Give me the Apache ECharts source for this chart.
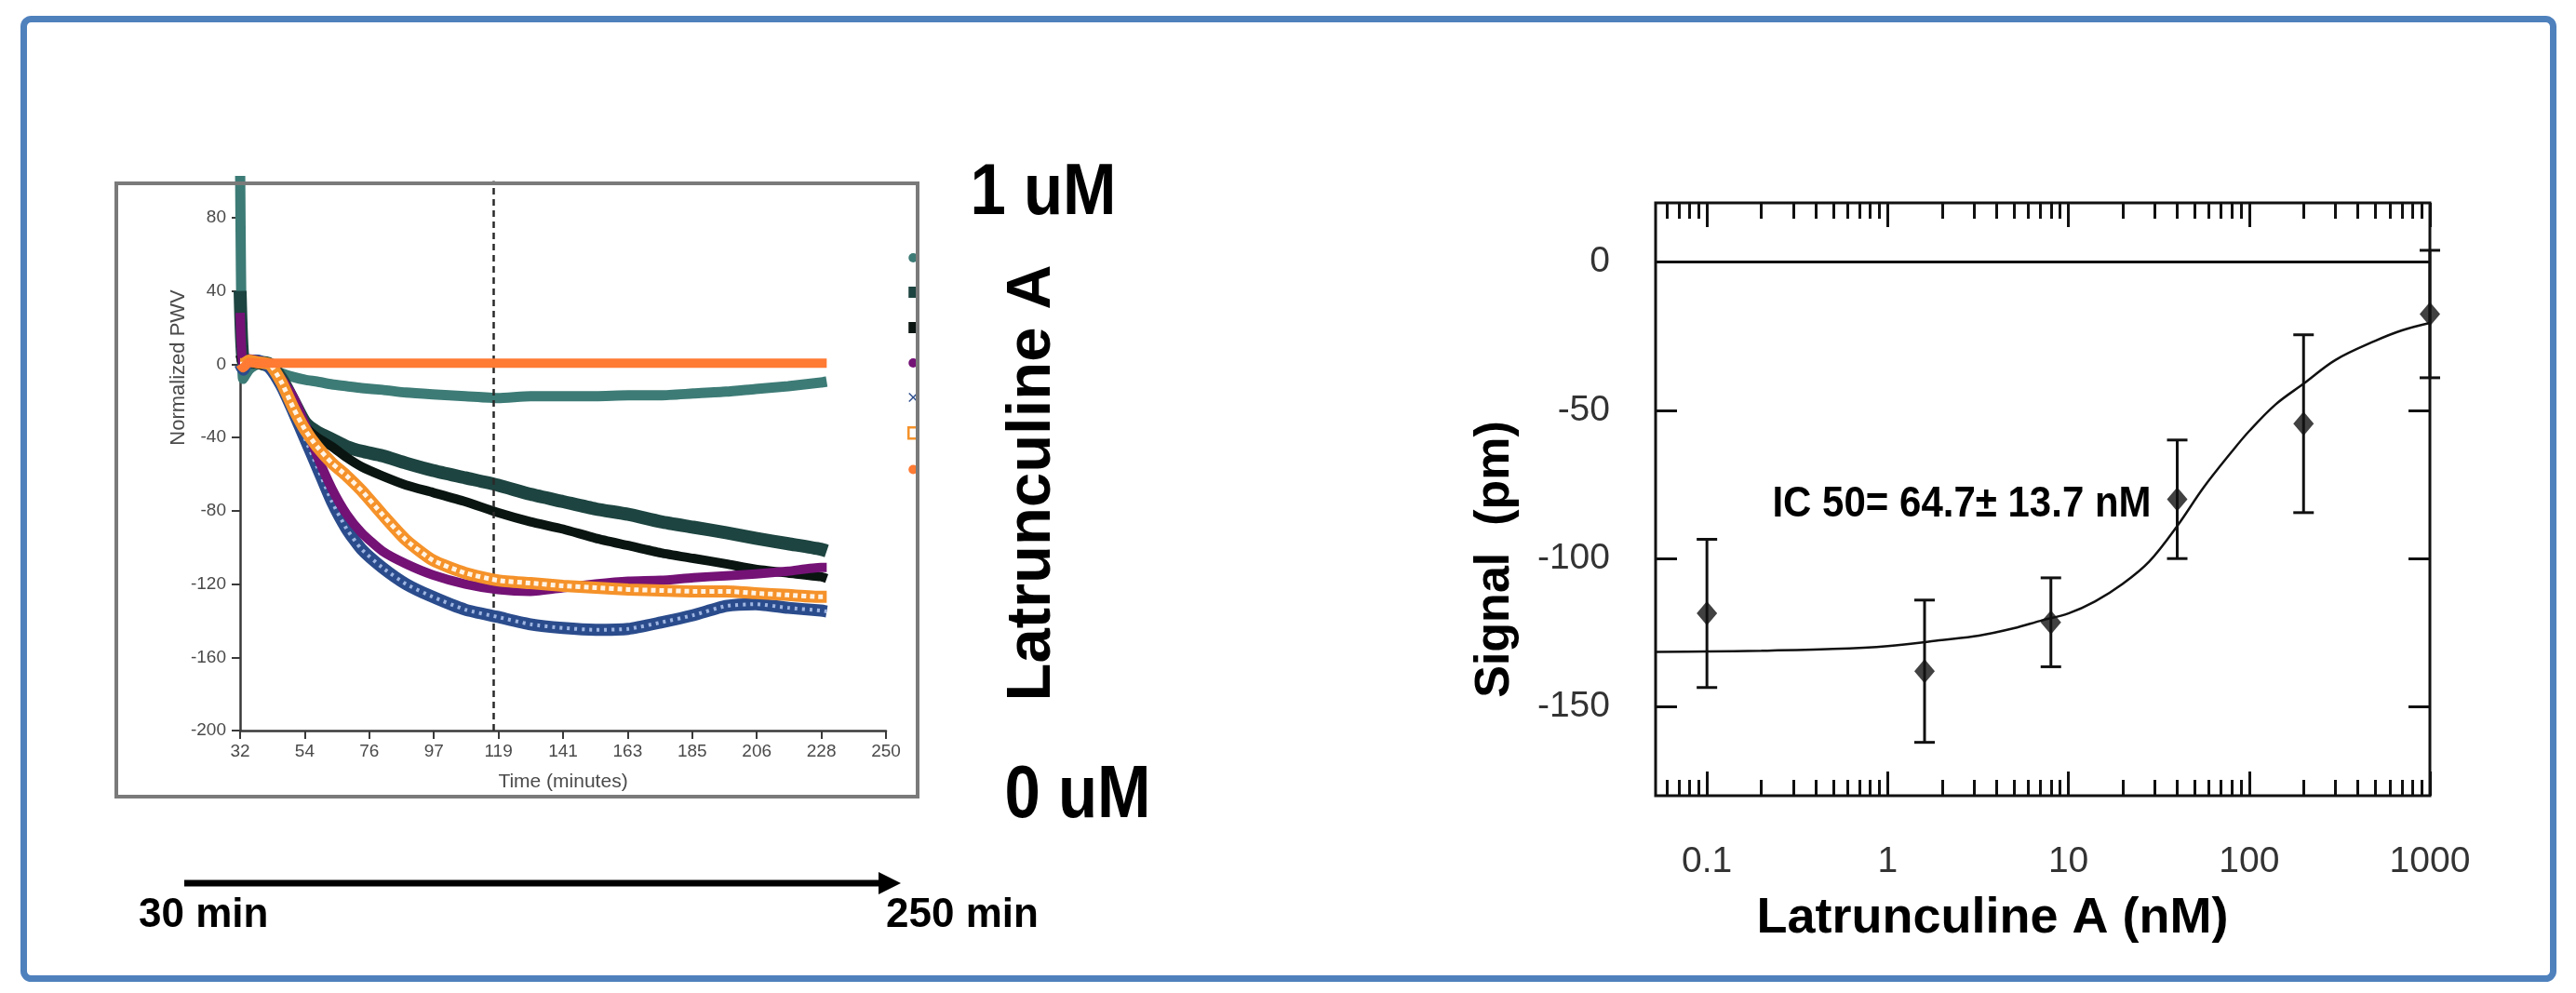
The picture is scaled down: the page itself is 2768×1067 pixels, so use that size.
<!DOCTYPE html>
<html>
<head>
<meta charset="utf-8">
<script src="https://cdn.jsdelivr.net/npm/echarts@6/dist/echarts.min.js"></script>
<style>
html,body{margin:0;padding:0;background:#ffffff;}
#chart{width:2768px;height:1067px;}
</style>
</head>
<body>
<div id="chart"></div>
<script>
// ---------- Left panel: kinetic traces (Time, minutes vs Normalized PWV) ----------
const timeMin = [32, 33, 35, 38, 42, 46, 50, 54, 58, 63, 68, 73, 80, 88, 97, 108, 119, 130, 141, 152, 163, 174, 185, 196, 206, 217, 228, 230];
const traceTeal = [110, -8, -3, 0, -2, -5, -7, -8.5, -9.5, -11, -12, -13, -14, -15.5, -16.5, -17.5, -18.5, -17.5, -17.5, -17.5, -17, -17, -16, -15, -13.5, -12, -10, -9.5];
const traceDarkGreen = [40, 2, 1, 1, 0, -8, -20, -32, -37, -41, -45, -47.5, -50, -54, -58, -62, -66, -71, -75, -79, -82, -86, -89, -92, -95, -98, -101, -102];
const traceBlack = [5, 0, 1, 0, -2, -10, -22, -34, -40, -45, -51, -56, -61, -66, -70, -75, -81, -86, -90, -95, -99, -103, -106, -109, -112, -114, -116, -117];
const tracePurple = [28, 0, 3, 2, 0, -8, -18, -33, -50, -68, -82, -92, -102, -109, -115, -120, -123, -124, -122, -120, -118.5, -118, -116.5, -115.5, -114.5, -113, -111, -111];
const traceBlue = [0, -3, 2, 2, -2, -12, -26, -41, -56, -75, -90, -101, -111, -120, -127, -134, -138, -142, -144, -145, -144.5, -141, -137, -132, -131, -133, -134.5, -135];
const traceOrangeSq = [0, 0, 2, 1, 0, -10, -24, -36, -45, -54, -61, -69, -82, -96, -107, -114, -118, -119.5, -121, -122, -123, -123.5, -124, -124, -125, -126, -127, -127];
const traceOrangeDot = [0, -2, 1, 0.5, 0.5, 0.5, 0.5, 0.5, 0.5, 0.5, 0.5, 0.5, 0.5, 0.5, 0.5, 0.5, 0.5, 0.5, 0.5, 0.5, 0.5, 0.5, 0.5, 0.5, 0.5, 0.5, 0.5, 0.5];
const timeTickVals = [32, 53.8, 75.6, 97.4, 119.2, 141, 162.8, 184.6, 206.4, 228.2, 250];
const timeTickLabels = ['32', '54', '76', '97', '119', '141', '163', '185', '206', '228', '250'];
const pwvTickVals = [-200, -160, -120, -80, -40, 0, 40, 80];
const markerTime = 117.6;

// ---------- Right panel: dose response ----------
const doseNM = [0.1, 1.6, 8, 40, 200, 1000];
const signalMean = [-118.5, -138, -121.5, -80, -54.5, -17.5];
const signalErr = [25, 24, 15, 20, 30, 21.5];
const fitDose = [0.052, 0.1, 0.2, 0.5, 1, 2, 3.2, 5, 7, 10, 14, 20, 28, 40, 56, 80, 100, 140, 200, 300, 500, 700, 1000];
const fitSignal = [-131.5, -131.3, -131.1, -130.5, -129.5, -127.5, -126, -123.5, -121, -118.5, -114.5, -108.5, -101, -89, -76, -64, -57, -48, -41, -33, -26.5, -23, -20.5];
const doseMajorTicks = [0.1, 1, 10, 100, 1000];
const doseTickLabels = ['0.1', '1', '10', '100', '1000'];
const signalTicks = [-150, -100, -50, 0];

// minor log ticks (2..9 of each decade) inside the axis range
const doseMinorTicks = [];
[0.01, 0.1, 1, 10, 100].forEach(function (d) {
  for (let k = 2; k <= 9; k++) {
    const v = +(d * k).toPrecision(3);
    if (v > 0.052 && v < 1000) doseMinorTicks.push(v);
  }
});

const FONT = "'Liberation Sans', Arial, Helvetica, sans-serif";

function nearestLabel(vals, labels, v) {
  let best = 0;
  for (let i = 1; i < vals.length; i++) {
    if (Math.abs(vals[i] - v) < Math.abs(vals[best] - v)) best = i;
  }
  return labels[best];
}
function pairs(xs, ys) { return xs.map(function (x, i) { return [x, ys[i]]; }); }

function traceSeries(name, ys, color, width, z, extra) {
  const s = {
    name: name, type: 'line', xAxisIndex: 0, yAxisIndex: 0,
    data: pairs(timeMin, ys), showSymbol: false, smooth: 0.2,
    lineStyle: { color: color, width: width, cap: 'butt', join: 'round' },
    itemStyle: { color: color }, z: z, silent: true
  };
  return Object.assign(s, extra || {});
}

const chart = echarts.init(document.getElementById('chart'), null, { renderer: 'canvas', width: 2768, height: 1067 });

const logAxisBase = {
  gridIndex: 1, type: 'log', logBase: 10, min: 0.052, max: 1000,
  axisLine: { show: false, onZero: false }, splitLine: { show: false }, minorTick: { show: false }
};
function logAxis(pos, ticks, len, withLabels) {
  return Object.assign({}, logAxisBase, {
    position: pos,
    axisTick: { show: true, inside: true, length: len, customValues: ticks, lineStyle: { color: '#111', width: 3 } },
    axisLabel: withLabels ? {
      show: true, customValues: doseMajorTicks, margin: 52, fontSize: 39, color: '#333', fontFamily: FONT,
      formatter: function (v) { return nearestLabel(doseMajorTicks, doseTickLabels, v); }
    } : { show: false }
  });
}
function signalAxis(pos, withLabels) {
  return {
    gridIndex: 1, type: 'value', min: -180, max: 20, position: pos,
    axisLine: { show: false, onZero: false }, splitLine: { show: false },
    axisTick: { show: true, inside: true, length: 23, customValues: signalTicks, lineStyle: { color: '#111', width: 3 } },
    axisLabel: withLabels ? { show: true, customValues: signalTicks, margin: 49, fontSize: 39, color: '#333', fontFamily: FONT } : { show: false }
  };
}

const option = {
  animation: false,
  backgroundColor: '#ffffff',
  grid: [
    { left: 258, top: 194.5, width: 694, height: 590.5, containLabel: false },
    { left: 1779, top: 218, width: 832, height: 637, show: true, borderColor: '#111', borderWidth: 3, backgroundColor: 'transparent', containLabel: false }
  ],
  legend: {
    orient: 'vertical', left: 975, top: 271, padding: 0, itemWidth: 10, itemHeight: 12, itemGap: 26,
    selectedMode: false, formatter: function () { return ''; }, textStyle: { fontSize: 1 },
    data: [
      { name: 'Trace 1', icon: 'circle', itemStyle: { color: '#3d7b76' } },
      { name: 'Trace 2', icon: 'rect', itemStyle: { color: '#1d4440' } },
      { name: 'Trace 3', icon: 'rect', itemStyle: { color: '#0a1512' } },
      { name: 'Trace 4', icon: 'circle', itemStyle: { color: '#741276' } },
      { name: 'Trace 5', icon: 'path://M0,1L1,0L5,4L9,0L10,1L6,5L10,9L9,10L5,6L1,10L0,9L4,5Z', itemStyle: { color: '#2b4c8c' } },
      { name: 'Trace 6', icon: 'rect', itemStyle: { color: '#ffffff', borderColor: '#f5922a', borderWidth: 2.5 } },
      { name: 'Trace 7', icon: 'circle', itemStyle: { color: '#ff7a33' } }
    ]
  },
  xAxis: [
    {
      gridIndex: 0, type: 'value', min: 32, max: 250, position: 'bottom',
      axisLine: { show: true, onZero: false, lineStyle: { color: '#3a3a3a', width: 2.5 } },
      axisTick: { show: true, customValues: timeTickVals, length: 9, lineStyle: { color: '#3a3a3a', width: 2 } },
      axisLabel: {
        show: true, customValues: timeTickVals, margin: 13, fontSize: 19, color: '#4a4a4a', fontFamily: FONT,
        formatter: function (v) { return nearestLabel(timeTickVals, timeTickLabels, v); }
      },
      splitLine: { show: false },
      name: 'Time (minutes)', nameLocation: 'middle', nameGap: 45,
      nameTextStyle: { fontSize: 21, color: '#4a4a4a', fontFamily: FONT }
    },
    logAxis('bottom', doseMajorTicks, 26, true),
    logAxis('bottom', doseMinorTicks, 17, false),
    logAxis('top', doseMajorTicks, 26, false),
    logAxis('top', doseMinorTicks, 17, false)
  ],
  yAxis: [
    {
      gridIndex: 0, type: 'value', min: -200, max: 100, position: 'left',
      axisLine: { show: true, onZero: false, lineStyle: { color: '#3a3a3a', width: 2.5 } },
      axisTick: { show: true, customValues: pwvTickVals, length: 9, lineStyle: { color: '#3a3a3a', width: 2 } },
      axisLabel: { show: true, customValues: pwvTickVals, margin: 15, fontSize: 19, color: '#4a4a4a', fontFamily: FONT },
      splitLine: { show: false }
    },
    signalAxis('left', true),
    signalAxis('right', false)
  ],
  series: [
    traceSeries('Trace 1', traceTeal, '#3d7b76', 11, 2, {
      markLine: {
        silent: true, symbol: 'none', label: { show: false },
        lineStyle: { type: [7, 5], color: '#2a2a2a', width: 2.5 },
        data: [{ xAxis: markerTime }]
      }
    }),
    traceSeries('Trace 2', traceDarkGreen, '#1d4440', 14, 3),
    traceSeries('Trace 3', traceBlack, '#0a1512', 10, 4),
    traceSeries('Trace 5', traceBlue, '#2b4c8c', 13, 5),
    traceSeries('Trace 5 texture', traceBlue, '#9fb6e2', 4, 6, { lineStyle: { color: '#9fb6e2', width: 4, type: [3, 5] } }),
    traceSeries('Trace 4', tracePurple, '#741276', 10, 7),
    traceSeries('Trace 6', traceOrangeSq, '#f5922a', 13, 8),
    traceSeries('Trace 6 texture', traceOrangeSq, '#ffffff', 5, 9, { lineStyle: { color: '#fff4e6', width: 5, type: [5, 4] } }),
    traceSeries('Trace 7', traceOrangeDot, '#ff7a33', 10, 10),

    {
      name: 'Fit', type: 'line', xAxisIndex: 1, yAxisIndex: 1,
      data: pairs(fitDose, fitSignal), showSymbol: false, smooth: 0.35,
      lineStyle: { color: '#111', width: 2.5 }, silent: true, z: 2,
      markLine: {
        silent: true, symbol: 'none', label: { show: false },
        lineStyle: { type: 'solid', color: '#111', width: 3 },
        data: [{ yAxis: 0 }]
      }
    },
    {
      name: 'Error', type: 'custom', xAxisIndex: 1, yAxisIndex: 1,
      data: doseNM.map(function (d, i) { return [d, signalMean[i] - signalErr[i], signalMean[i] + signalErr[i]]; }),
      encode: { x: 0, y: [1, 2] }, clip: false, z: 3, silent: true,
      renderItem: function (params, api) {
        const x = api.value(0);
        const a = api.coord([x, api.value(1)]);
        const b = api.coord([x, api.value(2)]);
        const w = 11;
        const st = { stroke: '#111', lineWidth: 3 };
        return {
          type: 'group', children: [
            { type: 'line', shape: { x1: a[0], y1: a[1], x2: b[0], y2: b[1] }, style: st },
            { type: 'line', shape: { x1: a[0] - w, y1: a[1], x2: a[0] + w, y2: a[1] }, style: st },
            { type: 'line', shape: { x1: b[0] - w, y1: b[1], x2: b[0] + w, y2: b[1] }, style: st }
          ]
        };
      }
    },
    {
      name: 'Mean', type: 'scatter', xAxisIndex: 1, yAxisIndex: 1,
      data: pairs(doseNM, signalMean), symbol: 'diamond', symbolSize: [22, 26],
      itemStyle: { color: '#111' }, z: 4, silent: true
    }
  ],
  graphic: [
    { type: 'rect', shape: { x: 25.5, y: 20.5, width: 2718, height: 1031, r: 8 }, style: { fill: 'none', stroke: '#4f81bd', lineWidth: 7 }, z: 100 },
    { type: 'rect', shape: { x: 125, y: 197, width: 861, height: 659 }, style: { fill: 'none', stroke: '#7a7a7a', lineWidth: 4 }, z: 50 },
    { type: 'text', x: 192, y: 395, rotation: Math.PI / 2, style: { text: 'Normalized PWV', fontSize: 22, fontFamily: FONT, fill: '#4a4a4a', align: 'center', verticalAlign: 'middle', textAlign: 'center', textVerticalAlign: 'middle' } },
    { type: 'text', x: 1121, y: 209, scaleY: 1.12, style: { text: '1 uM', fontSize: 69, fontWeight: 'bold', fontFamily: FONT, fill: '#000', align: 'center', verticalAlign: 'middle', textAlign: 'center', textVerticalAlign: 'middle' } },
    { type: 'text', x: 1110, y: 519, rotation: Math.PI / 2, style: { text: 'Latrunculine A', fontSize: 67, fontWeight: 'bold', fontFamily: FONT, fill: '#000', align: 'center', verticalAlign: 'middle', textAlign: 'center', textVerticalAlign: 'middle' } },
    { type: 'text', x: 1158, y: 856, scaleY: 1.15, style: { text: '0 uM', fontSize: 69, fontWeight: 'bold', fontFamily: FONT, fill: '#000', align: 'center', verticalAlign: 'middle', textAlign: 'center', textVerticalAlign: 'middle' } },
    { type: 'line', shape: { x1: 198, y1: 949, x2: 948, y2: 949 }, style: { stroke: '#000', lineWidth: 7 } },
    { type: 'polygon', shape: { points: [[944, 937], [968, 949], [944, 961]] }, style: { fill: '#000' } },
    { type: 'text', x: 149, y: 984, style: { text: '30 min', fontSize: 44, fontWeight: 'bold', fontFamily: FONT, fill: '#000', align: 'left', verticalAlign: 'middle', textAlign: 'left', textVerticalAlign: 'middle' } },
    { type: 'text', x: 952, y: 984, style: { text: '250 min', fontSize: 44, fontWeight: 'bold', fontFamily: FONT, fill: '#000', align: 'left', verticalAlign: 'middle', textAlign: 'left', textVerticalAlign: 'middle' } },
    { type: 'text', x: 1607, y: 601, rotation: Math.PI / 2, style: { text: 'Signal  (pm)', fontSize: 52, fontWeight: 'bold', fontFamily: FONT, fill: '#000', align: 'center', verticalAlign: 'middle', textAlign: 'center', textVerticalAlign: 'middle' } },
    { type: 'text', x: 2141, y: 987, style: { text: 'Latrunculine A (nM)', fontSize: 54, fontWeight: 'bold', fontFamily: FONT, fill: '#000', align: 'center', verticalAlign: 'middle', textAlign: 'center', textVerticalAlign: 'middle' } },
    { type: 'text', x: 2108, y: 542, scaleY: 1.1, style: { text: 'IC 50= 64.7\u00b1 13.7 nM', fontSize: 42, fontWeight: 'bold', fontFamily: FONT, fill: '#000', align: 'center', verticalAlign: 'middle', textAlign: 'center', textVerticalAlign: 'middle' } }
  ]
};

chart.setOption(option);
</script>
</body>
</html>
